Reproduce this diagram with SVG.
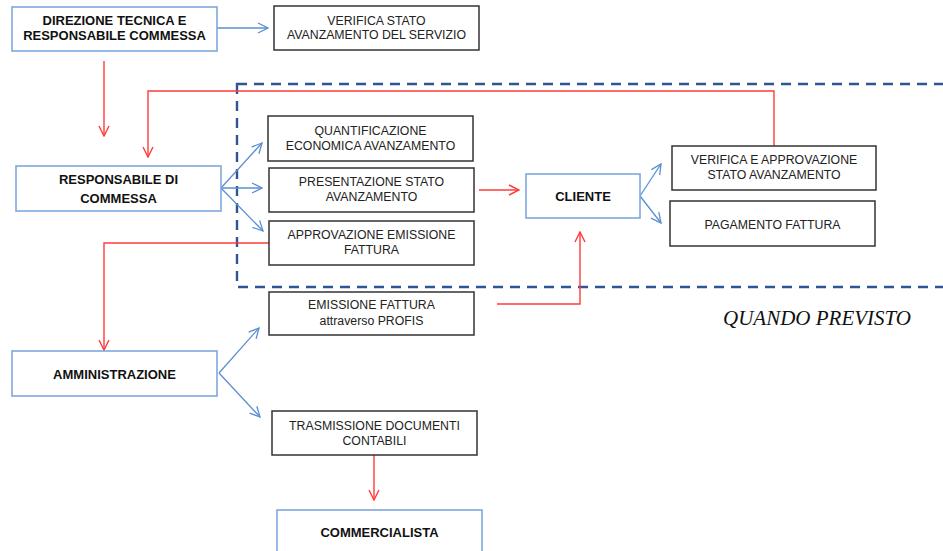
<svg xmlns="http://www.w3.org/2000/svg" width="943" height="551" viewBox="0 0 943 551">
<defs>
<style>
.bb{fill:#fff;stroke:#7ea8dc;stroke-width:1.6}
.kb{fill:#fff;stroke:#333;stroke-width:1.5}
.t{font-family:"Liberation Sans",Arial,sans-serif;font-size:12.3px;fill:#222;text-anchor:middle}
.tb{font-family:"Liberation Sans",Arial,sans-serif;font-size:13px;font-weight:bold;fill:#111;text-anchor:middle}
.bl{fill:none;stroke:#5b8fd0;stroke-width:1.3}
.rd{fill:none;stroke:#ff3b3b;stroke-width:1.4}
.dash{fill:none;stroke:#2f5597;stroke-width:2.4;stroke-dasharray:10 7}
</style>
<marker id="ab" viewBox="0 0 12 12" refX="11" refY="6" markerWidth="12" markerHeight="12" markerUnits="userSpaceOnUse" orient="auto">
<path d="M1,1 L11,6 L1,11" fill="none" stroke="#5b8fd0" stroke-width="1.3"/>
</marker>
<marker id="ar" viewBox="0 0 12 12" refX="11" refY="6" markerWidth="12" markerHeight="12" markerUnits="userSpaceOnUse" orient="auto">
<path d="M1,1 L11,6 L1,11" fill="none" stroke="#ff3b3b" stroke-width="1.4"/>
</marker>
</defs>
<rect width="943" height="551" fill="#fff"/>
<rect class="dash" x="237" y="84" width="720" height="203"/>
<g id="connectors">
<path class="bl" d="M217,28 L268,28" marker-end="url(#ab)"/>
<path class="rd" d="M104,61 L104,136" marker-end="url(#ar)"/>
<path class="rd" d="M774,146 L774,91 L148,91 L148,157" marker-end="url(#ar)"/>
<path class="bl" d="M221,188 L262,143" marker-end="url(#ab)"/>
<path class="bl" d="M221,188 L262,188" marker-end="url(#ab)"/>
<path class="bl" d="M221,188 L263,231" marker-end="url(#ab)"/>
<path class="rd" d="M269,243 L104,243 L104,350" marker-end="url(#ar)"/>
<path class="rd" d="M479,190 L519,190" marker-end="url(#ar)"/>
<path class="bl" d="M640,196 L661,164" marker-end="url(#ab)"/>
<path class="bl" d="M640,196 L661,223" marker-end="url(#ab)"/>
<path class="rd" d="M497,304 L580,304 L580,232" marker-end="url(#ar)"/>
<path class="bl" d="M219,373 L259,328" marker-end="url(#ab)"/>
<path class="bl" d="M219,373 L260,417" marker-end="url(#ab)"/>
<path class="rd" d="M374,455 L374,500" marker-end="url(#ar)"/>
</g>
<g id="direzione"><rect class="bb" x="12" y="7" width="205" height="44"/><text class="tb" x="114.5" y="24.5">DIREZIONE TECNICA E</text><text class="tb" x="114.5" y="39.5">RESPONSABILE COMMESSA</text></g>
<g id="verifica-stato"><rect class="kb" x="274" y="6" width="205" height="44"/><text class="t" x="376.5" y="24.5">VERIFICA STATO</text><text class="t" x="376.5" y="38.5">AVANZAMENTO DEL SERVIZIO</text></g>
<g id="responsabile"><rect class="bb" x="16" y="166" width="205" height="45"/><text class="tb" x="118.5" y="184">RESPONSABILE DI</text><text class="tb" x="118.5" y="203">COMMESSA</text></g>
<g id="quantificazione"><rect class="kb" x="268" y="116" width="205" height="45"/><text class="t" x="370.5" y="134.5">QUANTIFICAZIONE</text><text class="t" x="370.5" y="149.5">ECONOMICA AVANZAMENTO</text></g>
<g id="presentazione"><rect class="kb" x="269" y="168" width="205" height="44"/><text class="t" x="371.5" y="185.5">PRESENTAZIONE STATO</text><text class="t" x="371.5" y="200.5">AVANZAMENTO</text></g>
<g id="approvazione"><rect class="kb" x="269" y="221" width="205" height="44"/><text class="t" x="371.5" y="238.5">APPROVAZIONE EMISSIONE</text><text class="t" x="371.5" y="253.5">FATTURA</text></g>
<g id="cliente"><rect class="bb" x="526" y="174" width="114" height="44"/><text class="tb" x="583" y="200.5">CLIENTE</text></g>
<g id="verifica-approvazione"><rect class="kb" x="672" y="146" width="204" height="44"/><text class="t" x="774" y="163.5">VERIFICA E APPROVAZIONE</text><text class="t" x="774" y="178.5">STATO AVANZAMENTO</text></g>
<g id="pagamento"><rect class="kb" x="670" y="201" width="205" height="45"/><text class="t" x="772.5" y="228.5">PAGAMENTO  FATTURA</text></g>
<g id="emissione"><rect class="kb" x="269" y="292" width="205" height="43"/><text class="t" x="371.5" y="308.5">EMISSIONE FATTURA</text><text class="t" x="371.5" y="324.5">attraverso PROFIS</text></g>
<g id="amministrazione"><rect class="bb" x="12" y="351" width="205" height="45"/><text class="tb" x="114.5" y="378.5">AMMINISTRAZIONE</text></g>
<g id="trasmissione"><rect class="kb" x="272" y="411" width="205" height="44"/><text class="t" x="374.5" y="429.5">TRASMISSIONE DOCUMENTI</text><text class="t" x="374.5" y="444.5">CONTABILI</text></g>
<g id="commercialista"><rect class="bb" x="277" y="510" width="205" height="60"/><text class="tb" x="379.5" y="536.5">COMMERCIALISTA</text></g>
<text x="817" y="325" style="font-family:'Liberation Serif','Times New Roman',serif;font-size:21px;font-style:italic;fill:#111;text-anchor:middle">QUANDO PREVISTO</text>
</svg>
